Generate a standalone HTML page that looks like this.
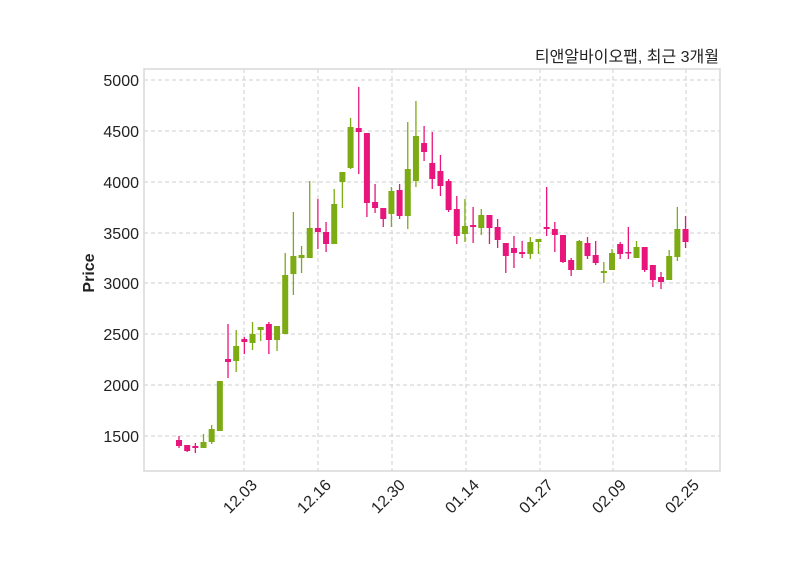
<!DOCTYPE html>
<html><head><meta charset="utf-8"><style>
body{margin:0;background:#fff;}
svg{display:block;font-family:"Liberation Sans","Noto Sans CJK KR",sans-serif;}
</style></head><body>
<svg id="s" width="800" height="575" xmlns="http://www.w3.org/2000/svg">
<rect x="0" y="0" width="800" height="575" fill="#fff"/>
<g stroke="#cfcfcf" stroke-dasharray="4,3" stroke-width="1">
<line x1="144" x2="720" y1="80" y2="80"/><line x1="144" x2="720" y1="131" y2="131"/>
<line x1="144" x2="720" y1="182" y2="182"/><line x1="144" x2="720" y1="233" y2="233"/>
<line x1="144" x2="720" y1="283" y2="283"/><line x1="144" x2="720" y1="334" y2="334"/>
<line x1="144" x2="720" y1="385" y2="385"/><line x1="144" x2="720" y1="436" y2="436"/>
<line y1="69" y2="471" x1="244" x2="244"/><line y1="69" y2="471" x1="318" x2="318"/>
<line y1="69" y2="471" x1="392" x2="392"/><line y1="69" y2="471" x1="466" x2="466"/>
<line y1="69" y2="471" x1="540" x2="540"/><line y1="69" y2="471" x1="613" x2="613"/>
<line y1="69" y2="471" x1="686" x2="686"/>
</g>
<rect x="144" y="69" width="576" height="402" fill="none" stroke="#d9d9d9" stroke-width="1.5"/>
<g id="c"></g>
<g font-size="16" fill="#222" text-anchor="end">
<text x="139" y="86">5000</text><text x="139" y="137">4500</text><text x="139" y="188">4000</text>
<text x="139" y="239">3500</text><text x="139" y="289">3000</text><text x="139" y="340">2500</text>
<text x="139" y="391">2000</text><text x="139" y="442">1500</text>
</g>
<g font-size="16" fill="#222" text-anchor="end">
<text transform="translate(258,486) rotate(-45)">12.03</text>
<text transform="translate(332,486) rotate(-45)">12.16</text>
<text transform="translate(406,486) rotate(-45)">12.30</text>
<text transform="translate(480,486) rotate(-45)">01.14</text>
<text transform="translate(554,486) rotate(-45)">01.27</text>
<text transform="translate(627,486) rotate(-45)">02.09</text>
<text transform="translate(700,486) rotate(-45)">02.25</text>
</g>
<text transform="translate(94,273) rotate(-90)" font-size="16" font-weight="bold" fill="#222" text-anchor="middle">Price</text>
<text x="719" y="62" font-size="16" fill="#222" text-anchor="end">티앤알바이오팹, 최근 3개월</text>
</svg>
<script>
var G='#7cab14',P='#e8157d';
var d=[
[440,446,436,448,P],[445,451,445,452,P],[446,448,443,453,P],[442,448,434,448,G],[429,442,425,444,G],
[381,431,381,431,G],[359,362,324,378,P],[346,361,330,372,G],[339,342,337,354,P],[334,343,322,350,G],
[327,330,327,341,G],[324,340,322,354,P],[326,340,326,351,G],[275,334,253,334,G],[256,274,212,295,G],
[255,258,246,273,G],[228,258,181,258,G],[228,232,199,249,P],[232,244,222,252,P],[204,244,189,244,G],
[172,182,172,208,G],[127,168,118,169,G],[128,132,87,174,P],[133,203,133,217,P],[202,208,184,213,P],
[208,219,208,227,P],[191,214,187,227,G],[190,216,184,219,P],[169,216,122,229,G],[136,181,101,187,G],
[143,152,126,161,P],[163,179,132,189,P],[171,186,155,196,P],[181,210,179,212,P],[209,236,196,244,P],
[226,234,199,242,G],[225,227,207,243,P],[215,228,209,235,G],[215,228,215,244,P],[227,240,219,248,P],
[243,256,243,273,P],[248,253,236,268,P],[252,254,241,258,P],[242,254,237,259,G],[239,242,239,254,G],
[227,229,187,236,P],[229,235,222,252,P],[235,262,235,263,P],[260,270,258,276,P],[241,270,240,270,G],
[243,256,237,259,P],[255,263,241,265,P],[271,273,262,283,G],[253,270,249,270,G],[244,254,242,259,P],
[252,253,227,259,P],[247,258,241,258,G],[247,270,247,272,P],[265,280,265,287,P],[277,282,272,289,P],
[256,280,250,280,G],[229,257,207,261,G],[229,242,216,248,P]];
var s='';
d.forEach(function(c,i){var x=179+i*8.17;
s+='<line x1="'+x+'" x2="'+x+'" y1="'+c[2]+'" y2="'+c[3]+'" stroke="'+c[4]+'" stroke-width="1.3"/>';
var h=Math.max(c[1]-c[0],1.5);
s+='<rect x="'+(x-3)+'" y="'+c[0]+'" width="6" height="'+h+'" fill="'+c[4]+'"/>';});
document.getElementById('c').innerHTML=s;
</script>
</body></html>
